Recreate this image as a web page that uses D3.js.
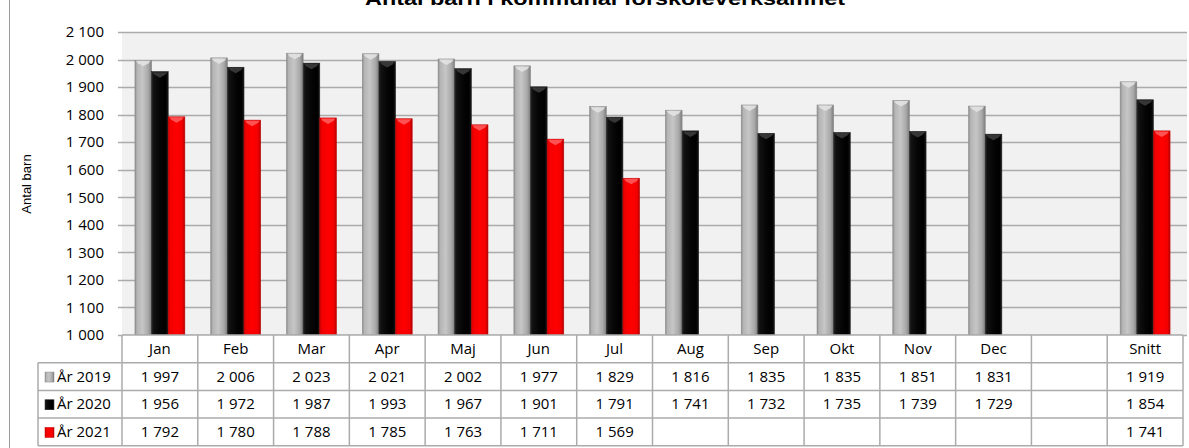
<!DOCTYPE html>
<html>
<head>
<meta charset="utf-8">
<script src="https://cdn.jsdelivr.net/npm/d3@7"></script>
<style>
  html, body { margin: 0; padding: 0; background: #fff; }
  svg { display: block; }
  text { font-family: "Open Sans", "Liberation Sans", sans-serif; fill: #000; }
</style>
</head>
<body>
<svg id="chart" width="1189" height="448"></svg>
<script>
// ---- data ----
const categories = ["Jan", "Feb", "Mar", "Apr", "Maj", "Jun", "Jul", "Aug", "Sep", "Okt", "Nov", "Dec", "", "Snitt"];
const seriesNames = ["År 2019", "År 2020", "År 2021"];
const values2019 = [1997, 2006, 2023, 2021, 2002, 1977, 1829, 1816, 1835, 1835, 1851, 1831, null, 1919];
const values2020 = [1956, 1972, 1987, 1993, 1967, 1901, 1791, 1741, 1732, 1735, 1739, 1729, null, 1854];
const values2021 = [1792, 1780, 1788, 1785, 1763, 1711, 1569, null, null, null, null, null, null, 1741];
const yTicks = [1000, 1100, 1200, 1300, 1400, 1500, 1600, 1700, 1800, 1900, 2000, 2100];
const title = "Antal barn i kommunal förskoleverksamhet";
const yTitle = "Antal barn";

const seriesValues = [values2019, values2020, values2021];

// ---- layout ----
const svg = d3.select("#chart");
const plotLeft = 122, plotRight = 1183, plotTop = 32, plotBottom = 335;
const rowH = 27.7, legendLeft = 38;
const gridColor = "#ababab";
const fs = 15;

const fmt = v => v == null ? "" : d3.format(",")(v).replace(/,/g, " ");

const x = d3.scaleBand().domain(d3.range(categories.length)).range([plotLeft, plotRight]).padding(0);
const xs = d3.scaleBand().domain(d3.range(seriesNames.length)).range([0, x.bandwidth()]).paddingInner(0).paddingOuter(0.78);
const y = d3.scaleLinear().domain([1000, 2100]).range([plotBottom, plotTop]);

// gradients
const defs = svg.append("defs");
const grads = [
  {id: "g0", stops: [[0, "#8c8c8c"], [0.12, "#b4b4b4"], [0.45, "#c6c6c6"], [0.8, "#a8a8a8"], [1, "#7c7c7c"]], cap: "#e2e2e2", edge: "#8a8a8a"},
  {id: "g1", stops: [[0, "#2a2a2a"], [0.12, "#111"], [0.5, "#050505"], [0.85, "#000"], [1, "#1a1a1a"]], cap: "#3c3c3c", edge: "#222"},
  {id: "g2", stops: [[0, "#c80000"], [0.12, "#f00000"], [0.5, "#ff0000"], [0.85, "#f20000"], [1, "#b00000"]], cap: "#ff5a5a", edge: "#c00000"}
];
grads.forEach(g => {
  const lg = defs.append("linearGradient").attr("id", g.id).attr("x1", "0").attr("x2", "1").attr("y1", "0").attr("y2", "0");
  g.stops.forEach(s => lg.append("stop").attr("offset", s[0]).attr("stop-color", s[1]));
});

// outer left border
svg.append("line").attr("x1", 9.5).attr("x2", 9.5).attr("y1", 0).attr("y2", 448)
  .attr("stroke", "#9a9a9a").attr("stroke-width", 1);

// title (clipped at top as in reference)
svg.append("text").attr("x", 605).attr("y", 5).attr("text-anchor", "middle")
  .style("font-family", "'Liberation Sans', Arial, sans-serif")
  .style("font-weight", "bold").attr("font-size", 19)
  .attr("textLength", 480).attr("lengthAdjust", "spacingAndGlyphs")
  .text(title);

// plot background
svg.append("rect").attr("x", plotLeft).attr("y", plotTop).attr("width", 1187 - plotLeft).attr("height", plotBottom - plotTop)
  .attr("fill", "#f1f1f1");

// gridlines
svg.append("g").selectAll("line").data(yTicks).join("line")
  .attr("x1", plotLeft - 4).attr("x2", 1187)
  .attr("y1", d => Math.round(y(d)) + 0.5).attr("y2", d => Math.round(y(d)) + 0.5)
  .attr("stroke", gridColor).attr("stroke-width", 1.3);

// y axis labels
const yAxis = d3.axisLeft(y).tickValues(yTicks).tickFormat(fmt).tickSize(0).tickPadding(0);
const ya = svg.append("g").attr("transform", `translate(${plotLeft - 18},0)`).call(yAxis);
ya.select(".domain").remove();
ya.selectAll("text").attr("font-size", fs).attr("font-family", "'Open Sans', sans-serif").attr("fill", "#000");

// y title
svg.append("text").attr("transform", `translate(31,184) rotate(-90)`).attr("text-anchor", "middle")
  .style("font-family", "'Liberation Sans', Arial, sans-serif").attr("font-size", 13).text(yTitle);

// bars
seriesValues.forEach((vals, si) => {
  const g = svg.append("g");
  const data = vals.map((v, i) => ({v, i})).filter(d => d.v != null);
  const w = xs.bandwidth();
  g.selectAll("rect").data(data).join("rect")
    .attr("x", d => x(d.i) + xs(si))
    .attr("y", d => y(d.v))
    .attr("width", w)
    .attr("height", d => y(1000) - y(d.v))
    .attr("fill", `url(#${grads[si].id})`)
    .attr("stroke", grads[si].edge).attr("stroke-width", 0.6);
  g.selectAll("polygon").data(data).join("polygon")
    .attr("points", d => {
      const x0 = x(d.i) + xs(si), y0 = y(d.v);
      return [[x0 + 1, y0 + 0.5], [x0 + w - 1, y0 + 0.5], [x0 + w - 3, y0 + 3], [x0 + w / 2, y0 + 6], [x0 + 3, y0 + 3]].map(p => p.join(",")).join(" ");
    })
    .attr("fill", grads[si].cap).attr("opacity", 0.9);
});

// ---- data table ----
const table = svg.append("g");
const tableRight = plotRight;
const rowsTop = plotBottom + rowH;
table.append("rect").attr("x", plotLeft).attr("y", plotBottom).attr("width", tableRight - plotLeft).attr("height", rowH)
  .attr("fill", "#fff");
table.append("rect").attr("x", legendLeft).attr("y", rowsTop).attr("width", tableRight - legendLeft).attr("height", rowH * 3)
  .attr("fill", "#fff");

const lineStyle = s => s.attr("stroke", gridColor).attr("stroke-width", 1.5).attr("fill", "none");
table.append("line").attr("x1", plotLeft).attr("x2", tableRight).attr("y1", plotBottom).attr("y2", plotBottom).call(lineStyle);
d3.range(4).forEach(r => {
  const yy = rowsTop + r * rowH;
  table.append("line").attr("x1", legendLeft).attr("x2", tableRight).attr("y1", yy).attr("y2", yy).call(lineStyle);
});
d3.range(categories.length + 1).forEach(i => {
  const xx = i < categories.length ? x(i) : tableRight;
  table.append("line").attr("x1", xx).attr("x2", xx).attr("y1", plotBottom).attr("y2", rowsTop + 3 * rowH).call(lineStyle);
});
table.append("line").attr("x1", legendLeft).attr("x2", legendLeft).attr("y1", rowsTop).attr("y2", rowsTop + 3 * rowH).call(lineStyle);

// header labels
table.selectAll("text.cat").data(categories).join("text").attr("class", "cat")
  .attr("x", (d, i) => x(i) + x.bandwidth() / 2).attr("y", plotBottom + rowH / 2 + 5)
  .attr("text-anchor", "middle").attr("font-size", fs).text(d => d);

// values
seriesValues.forEach((vals, si) => {
  const yy = rowsTop + si * rowH + rowH / 2 + 5;
  table.append("g").selectAll("text").data(vals).join("text")
    .attr("x", (d, i) => x(i) + x.bandwidth() / 2).attr("y", yy)
    .attr("text-anchor", "middle").attr("font-size", fs).text(d => fmt(d));
  table.append("rect").attr("x", 45).attr("y", rowsTop + si * rowH + rowH / 2 - 4.5)
    .attr("width", 9).attr("height", 10).attr("fill", `url(#${grads[si].id})`)
    .attr("stroke", grads[si].edge).attr("stroke-width", 0.5);
  table.append("text").attr("x", 57).attr("y", yy).attr("font-size", fs).text(seriesNames[si]);
});
</script>
</body>
</html>
